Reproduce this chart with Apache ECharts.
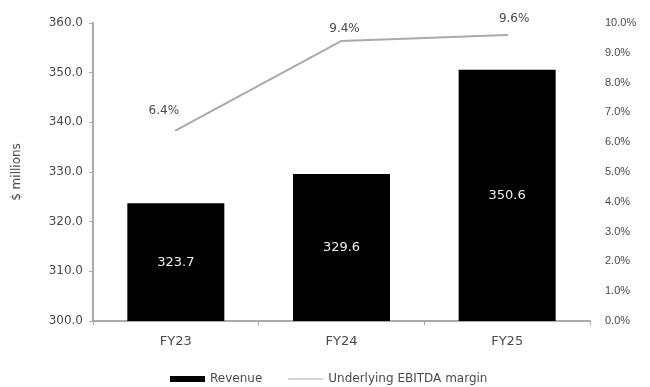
<!DOCTYPE html>
<html><head><meta charset="utf-8">
<script src="https://cdn.jsdelivr.net/npm/echarts@6/dist/echarts.min.js"></script>
<style>html,body{margin:0;padding:0;background:#fff}#c{width:650px;height:387px}</style>
</head><body><div id="c"></div>
<script>
const categories = ['FY23', 'FY24', 'FY25'];
const revenue = [323.7, 329.6, 350.6];
const margin = [6.4, 9.4, 9.6];
const leftTicks = [300, 360, 10];
const rightTicks = [0, 10, 1];

const chart = echarts.init(document.getElementById('c'));
const font = 'DejaVu Sans, sans-serif';
const font2 = 'Liberation Sans, Arial, sans-serif';
const txt = '#4a4a4a';
const lineLabelOffsets = [[-12, -7], [3, 0], [7, -4]];
chart.setOption({
  animation: false,
  textStyle: { fontFamily: font },
  grid: { left: 93, right: 60, top: 23, bottom: 66 },
  legend: {
    top: 368, left: 165, itemGap: 26, itemWidth: 35, itemHeight: 6,
    textStyle: { fontSize: 12, color: txt, fontFamily: font },
    data: [
      { name: 'Revenue', icon: 'rect' },
      { name: 'Underlying EBITDA margin', icon: 'path://M0,0 L40,0 L40,1 L0,1 Z', itemStyle: { color: '#aaa' } }
    ]
  },
  xAxis: {
    type: 'category', data: categories,
    axisLine: { lineStyle: { color: '#aaa', width: 2 } },
    axisTick: { show: true, length: 4, lineStyle: { color: '#aaa' } },
    axisLabel: { color: txt, fontSize: 13, margin: 14 }
  },
  yAxis: [
    {
      type: 'value', min: leftTicks[0], max: leftTicks[1], interval: leftTicks[2],
      name: '$ millions', nameLocation: 'middle', nameGap: 70, nameRotate: 90,
      nameTextStyle: { color: txt, fontSize: 12 },
      axisLine: { show: true, lineStyle: { color: '#aaa', width: 2 } },
      axisTick: { show: true, length: 4, lineStyle: { color: '#aaa' } },
      splitLine: { show: false },
      axisLabel: { color: txt, fontSize: 12, margin: 10, formatter: v => v.toFixed(1) }
    },
    {
      type: 'value', min: rightTicks[0], max: rightTicks[1], interval: rightTicks[2],
      position: 'right',
      axisLine: { show: false }, axisTick: { show: false }, splitLine: { show: false },
      axisLabel: { color: txt, fontSize: 11, fontFamily: font2, margin: 15, formatter: v => v.toFixed(1) + '%' }
    }
  ],
  series: [
    {
      name: 'Revenue', type: 'bar', data: revenue, barWidth: 97,
      itemStyle: { color: '#000' },
      label: { show: true, position: 'inside', color: '#eee', fontSize: 13, formatter: p => p.value.toFixed(1) }
    },
    {
      name: 'Underlying EBITDA margin', type: 'line', yAxisIndex: 1,
      data: margin.map((v, i) => ({ value: v, label: { offset: lineLabelOffsets[i] } })),
      symbol: 'circle', symbolSize: 2, showSymbol: true,
      lineStyle: { color: '#aaa', width: 2 }, itemStyle: { color: '#aaa' },
      label: { show: true, position: 'top', distance: 5, color: txt, fontSize: 12, formatter: p => p.value.toFixed(1) + '%' }
    }
  ]
});
</script></body></html>
